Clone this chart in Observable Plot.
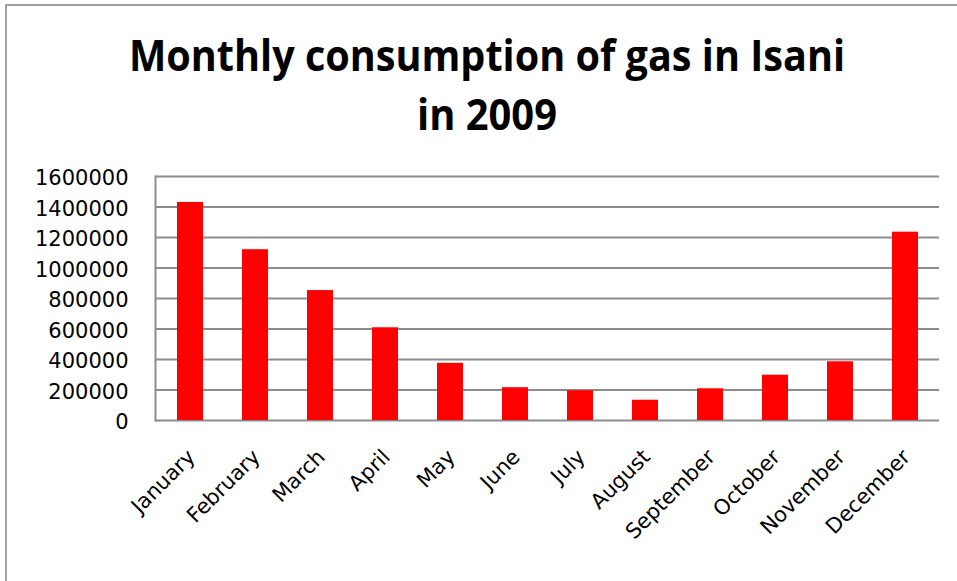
<!DOCTYPE html>
<html>
<head>
<meta charset="utf-8">
<script src="https://cdn.jsdelivr.net/npm/d3@7"></script>
<script src="https://cdn.jsdelivr.net/npm/@observablehq/plot@0.6"></script>
<style>
  html, body { margin: 0; padding: 0; background: #fff; }
  #wrap { position: relative; width: 957px; height: 581px; overflow: hidden; background: #fff; }
  #border { position: absolute; left: 5px; top: 4px; right: -5px; bottom: -5px;
            border-top: 2px solid #a0a0a0; border-left: 2px solid #a0a0a0; pointer-events: none; }
  #title { display: block; }
  #chart svg { display: block; }
</style>
</head>
<body>
<div id="wrap">
  <svg id="title" width="957" height="150">
    <text x="487" y="71" text-anchor="middle" font-family="Open Sans" font-weight="bold" font-size="43" textLength="716" lengthAdjust="spacingAndGlyphs">Monthly consumption of gas in Isani</text>
    <text x="487" y="130" text-anchor="middle" font-family="Open Sans" font-weight="bold" font-size="43" textLength="140" lengthAdjust="spacingAndGlyphs">in 2009</text>
  </svg>
  <div id="chart"></div>
  <div id="border"></div>
</div>
<script>
const months = ["January", "February", "March", "April", "May", "June", "July", "August", "September", "October", "November", "December"];
const consumption = [1430000, 1120000, 852000, 608000, 375000, 215000, 195000, 133000, 208000, 297000, 385000, 1235000];
const yTicks = [0, 200000, 400000, 600000, 800000, 1000000, 1200000, 1400000, 1600000];

const data = months.map((m, i) => ({month: m, value: consumption[i]}));

const chart = Plot.plot({
  width: 957,
  height: 431,
  marginLeft: 155,
  marginRight: 18,
  marginTop: 26,
  marginBottom: 161,
  style: {fontFamily: "DejaVu Sans", fontSize: "21px", color: "#000", background: "transparent", overflow: "visible"},
  x: {domain: months, paddingInner: 0.6, paddingOuter: 0.3, label: null},
  y: {domain: [0, 1600000], label: null},
  marks: [
    Plot.ruleY(yTicks, {stroke: "#8c8c8c", strokeWidth: 2}),
    Plot.frame({anchor: "left", stroke: "#8c8c8c", strokeWidth: 2}),
    Plot.barY(data, {x: "month", y: "value", fill: "#ff0000"}),
    Plot.axisY({ticks: yTicks, tickFormat: d => String(d), tickSize: 0, tickPadding: 27, dy: 2, label: null, fill: "#000"}),
    Plot.axisX({tickRotate: -45, tickSize: 0, tickPadding: 33, dx: 1, label: null, fill: "#000"})
  ]
});
document.getElementById("chart").appendChild(chart);
</script>
</body>
</html>
